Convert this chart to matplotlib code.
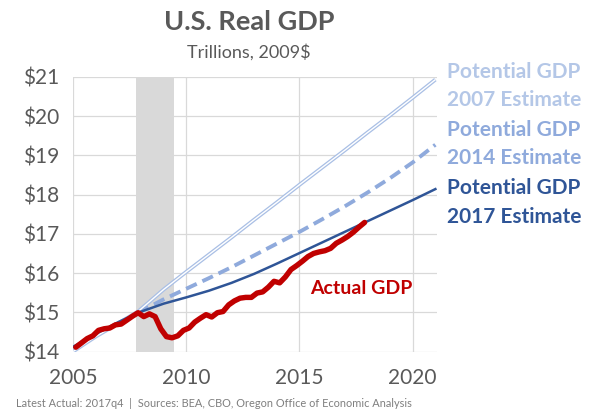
import numpy as np
import matplotlib.pyplot as plt

plt.rcParams['font.family'] = ['Lato', 'DejaVu Sans']

# Actual real GDP, quarterly 2005q1 - 2017q4 (trillions, 2009$)
actual = [14.11, 14.22, 14.33, 14.40,
          14.54, 14.58, 14.60, 14.68,
          14.70, 14.80, 14.90, 14.99,
          14.89, 14.96, 14.89, 14.58,
          14.38, 14.35, 14.40, 14.54,
          14.60, 14.75, 14.85, 14.94,
          14.88, 14.99, 15.02, 15.19,
          15.29, 15.36, 15.38, 15.38,
          15.49, 15.52, 15.64, 15.79,
          15.75, 15.90, 16.09, 16.19,
          16.30, 16.42, 16.50, 16.54,
          16.57, 16.63, 16.76, 16.84,
          16.93, 17.04, 17.17, 17.29]
actual_x = 2005 + (np.arange(len(actual)) + 0.5) / 4

# Potential GDP estimates
pot07_x = [2005, 2006, 2007, 2007.875, 2009, 2010, 2011, 2012, 2013, 2014,
           2015, 2016, 2017, 2018, 2019, 2020, 2021]
pot07 = [14.00, 14.38, 14.72, 15.02, 15.58, 16.03, 16.47, 16.91, 17.36, 17.80,
         18.25, 18.69, 19.13, 19.58, 20.02, 20.47, 20.93]

pot14_x = [2007.875, 2009, 2010, 2011, 2012, 2013, 2014, 2015, 2016, 2017,
           2018, 2019, 2020, 2021]
pot14 = [14.99, 15.33, 15.60, 15.87, 16.15, 16.45, 16.75, 17.05, 17.37, 17.70,
         18.05, 18.42, 18.82, 19.27]

pot17_x = [2005, 2006, 2007, 2007.875, 2009, 2010, 2011, 2012, 2013, 2014,
           2015, 2016, 2017, 2018, 2019, 2020, 2021]
pot17 = [14.12, 14.45, 14.75, 14.99, 15.22, 15.38, 15.55, 15.75, 15.98, 16.24,
         16.51, 16.78, 17.05, 17.32, 17.59, 17.86, 18.14]

recession = (2007.79, 2009.47)

fig = plt.figure(figsize=(5.97, 4.2), dpi=100)
ax = fig.add_axes([0.1223, 0.163, 0.61, 0.654])

ax.axvspan(*recession, color='#D9D9D9', lw=0, zorder=1)

# 2007 estimate drawn as an outlined (hollow) line
ax.plot(pot07_x, pot07, color='#A9BFE5', lw=2.8, zorder=3, solid_capstyle='butt')
ax.plot(pot07_x, pot07, color='white', lw=1.0, zorder=3.1, solid_capstyle='butt')
ax.plot(pot14_x, pot14, color='#8FAADC', lw=2.8, dashes=(3, 1.6), zorder=3)
ax.plot(pot17_x, pot17, color='#2F5597', lw=1.8, zorder=4)
ax.plot(actual_x, actual, color='#C00000', lw=3.9, zorder=5,
        solid_capstyle='round', solid_joinstyle='round')

ax.set_xlim(2005, 2021.08)
ax.set_ylim(14, 21)
ax.set_xticks([2005, 2010, 2015, 2020])
ax.set_yticks(range(14, 22))
ax.set_yticklabels([f'${v}' for v in range(14, 22)])
ax.grid(True, color='#D9D9D9', lw=0.9)
ax.set_axisbelow(True)
for s in ax.spines.values():
    s.set_visible(False)
ax.tick_params(length=0, labelsize=15, labelcolor='#595959')
ax.tick_params(axis='y', pad=10)
ax.tick_params(axis='x', pad=12)

fig.text(0.417, 0.947, 'U.S. Real GDP', ha='center', va='center',
         fontsize=19.5, fontweight='bold', color='#595959')
fig.text(0.417, 0.876, 'Trillions, 2009$', ha='center', va='center',
         fontsize=13, color='#595959')

lx = 0.748
fs = 15
fig.text(lx, 0.829, 'Potential GDP', fontsize=fs, fontweight='bold',
         color='#B4C7E7', va='center')
fig.text(lx, 0.762, '2007 Estimate', fontsize=fs, fontweight='bold',
         color='#B4C7E7', va='center')
fig.text(lx, 0.69, 'Potential GDP', fontsize=fs, fontweight='bold',
         color='#8FAADC', va='center')
fig.text(lx, 0.624, '2014 Estimate', fontsize=fs, fontweight='bold',
         color='#8FAADC', va='center')
fig.text(lx, 0.552, 'Potential GDP', fontsize=fs, fontweight='bold',
         color='#2F5597', va='center')
fig.text(lx, 0.483, '2017 Estimate', fontsize=fs, fontweight='bold',
         color='#2F5597', va='center')
fig.text(0.519, 0.314, 'Actual GDP', fontsize=14, fontweight='bold',
         color='#C00000', va='center')

fig.text(0.027, 0.04, 'Latest Actual: 2017q4  |  Sources: BEA, CBO, Oregon Office of Economic Analysis',
         fontsize=7.9, color='#7F7F7F', va='center')

fig.savefig('out.png', dpi=100)
